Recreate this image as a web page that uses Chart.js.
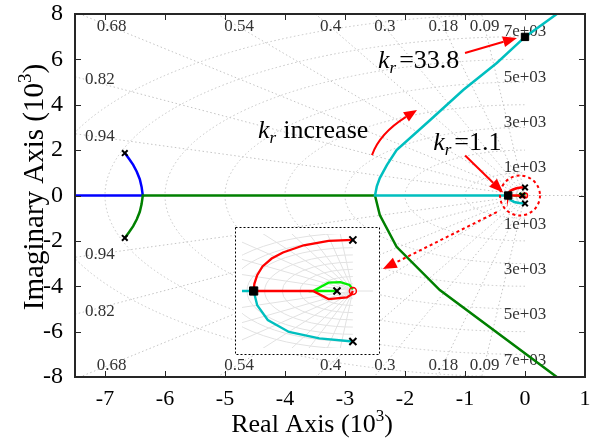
<!DOCTYPE html>
<html>
<head>
<meta charset="utf-8">
<script src="https://cdn.jsdelivr.net/npm/chart.js@4.4.1/dist/chart.umd.min.js"></script>
<style>
  html, body { margin: 0; padding: 0; background: #fff; }
  #wrap { position: relative; width: 592px; height: 441px; }
  #inset { position: absolute; left: 235px; top: 227px; background: #fff; }
</style>
</head>
<body>
<div id="wrap">
  <canvas id="myChart" width="592" height="441"></canvas>
  <canvas id="inset" width="145" height="128"></canvas>
</div>
<script>
// axes, units of 10^3
const xLim = [-7.5, 1];
const yLim = [-8, 8];
const xTicks = [-7, -6, -5, -4, -3, -2, -1, 0, 1];
const yTicks = [-8, -6, -4, -2, 0, 2, 4, 6, 8];

// zoomed window shown in the inset
const insetXLim = [-0.314, 0.057];
const insetYLim = [-0.395, 0.395];

// sgrid: damping ratios and natural frequencies
const zetas = [0.09, 0.18, 0.3, 0.4, 0.54, 0.68, 0.82, 0.94];
const wns = [1, 2, 3, 4, 5, 6, 7, 8];
const wnLabelled = [1, 3, 5, 7];
const insetWns = [0.05, 0.1, 0.15, 0.2, 0.25, 0.3, 0.35, 0.4];

// root locus branches
const blueX = [-6.67, -6.60, -6.53, -6.47, -6.42, -6.39, -6.37, -7.6];
const blueY = [1.87, 1.62, 1.35, 1.05, 0.72, 0.38, 0, 0];

const greenX = [-6.67, -6.60, -6.53, -6.47, -6.42, -6.39, -6.37, -2.50, -2.42, -2.14, -1.42, 0.53, 0.70];
const greenY = [-1.87, -1.62, -1.35, -1.05, -0.72, -0.38, 0, 0, -0.86, -2.26, -4.17, -8.0, -8.35];

const cyanX = [0, -0.095, -0.181, -0.241, -0.271, -0.281, -2.50, -2.47, -2.42, -2.30, -2.14, -1.58, -1.03, -0.47, 0, 0.53, 0.68];
const cyanY = [-0.350, -0.329, -0.284, -0.201, -0.098, 0, 0, 0.40, 0.77, 1.35, 2.0, 3.33, 4.65, 5.84, 6.99, 8.0, 8.3];

const redX = [0, -0.069, -0.139, -0.198, -0.230, -0.256, -0.271, -0.279, -0.281, -0.113, -0.069, -0.017, -0.005, 0];
const redY = [0.354, 0.348, 0.317, 0.267, 0.225, 0.170, 0.110, 0.050, 0, 0, -0.056, -0.045, -0.025, 0];

const limeX = [-0.045, -0.113, -0.069, -0.035, -0.0095, 0];
const limeY = [0, 0, 0.058, 0.062, 0.042, 0.011];

// open loop poles / zeros
const polesX = [-6.67, -6.67, 0, 0, -0.045];
const polesY = [1.87, -1.87, 0.354, -0.350, 0];
const zerosX = [0];
const zerosY = [0];

// marked gains k_r
const gainX = [0, -0.281];
const gainY = [6.99, 0];
const gainK = ['33.8', '1.1'];

const SERIF = '"Liberation Serif", "Times New Roman", serif';
const zip = (xs, ys) => xs.map((x, i) => ({ x: x, y: ys[i] }));

function lineSet(xs, ys, color, width, order) {
    return { data: zip(xs, ys), showLine: true, borderColor: color, borderWidth: width,
             pointRadius: 0, fill: false, tension: 0, order: order, clip: 0 };
}
function markSet(xs, ys, style, r, color, bg, w, order) {
    return { data: zip(xs, ys), showLine: false, pointStyle: style, pointRadius: r,
             borderColor: color, backgroundColor: bg, pointBorderWidth: w, order: order, clip: 6 };
}
function makeSets(big) {
    const lw = big ? 2.5 : 2.3;
    return [
        markSet(polesX, polesY, 'crossRot', big ? 4 : 5, '#000', '#000', 2, 0),
        markSet(gainX, gainY, 'rect', big ? 5.2 : 5.8, '#000', '#000', 1, 0),
        markSet(zerosX, zerosY, 'circle', big ? 2.5 : 3.5, '#f00', 'rgba(0,0,0,0)', 1.5, 1),
        lineSet(redX, redY, '#ff0000', lw, 2),
        lineSet(limeX, limeY, '#00ee00', lw, 3),
        lineSet(cyanX, cyanY, '#00bfbf', lw, 4),
        lineSet(greenX, greenY, '#008000', lw, 5),
        lineSet(blueX, blueY, '#0000ff', lw, 6)
    ];
}

function drawSgrid(chart, color, dash, radii, labels) {
    const { ctx, chartArea: a, scales: { x, y } } = chart;
    const ox = x.getPixelForValue(0), oy = y.getPixelForValue(0);
    const kx = Math.abs(x.getPixelForValue(1) - ox), ky = Math.abs(y.getPixelForValue(1) - oy);
    ctx.save();
    ctx.beginPath(); ctx.rect(a.left, a.top, a.right - a.left, a.bottom - a.top); ctx.clip();
    ctx.strokeStyle = color; ctx.lineWidth = 1; ctx.setLineDash(dash);
    const R = 50;
    zetas.forEach(z => {
        const s = Math.sqrt(1 - z * z);
        [1, -1].forEach(sg => {
            ctx.beginPath(); ctx.moveTo(ox, oy);
            ctx.lineTo(ox - z * R * kx, oy - sg * s * R * ky); ctx.stroke();
        });
    });
    radii.forEach(r => {
        ctx.beginPath(); ctx.ellipse(ox, oy, r * kx, r * ky, 0, Math.PI / 2, 3 * Math.PI / 2); ctx.stroke();
    });
    ctx.beginPath(); ctx.moveTo(ox, oy); ctx.lineTo(a.right, oy); ctx.stroke();
    ctx.restore();
    if (!labels) return;

    ctx.save();
    ctx.fillStyle = '#333';
    ctx.font = '17px ' + SERIF;
    ctx.textBaseline = 'middle';
    const yMax = y.max, xMin = x.min;
    zetas.forEach(z => {
        const s = Math.sqrt(1 - z * z);
        const xt = -yMax * z / s;
        if (xt >= xMin) {
            const yl = yMax - 13 / ky;
            let cx = x.getPixelForValue(-yl * z / s);
            const w = ctx.measureText(String(z)).width;
            cx = Math.max(cx, a.left + 11 + w / 2);
            ctx.textAlign = 'center';
            ctx.fillText(String(z), cx, a.top + 13);
            ctx.fillText(String(z), cx, a.bottom - 11);
        } else {
            const yv = -xMin * s / z;
            ctx.textAlign = 'left';
            ctx.fillText(String(z), a.left + 10, y.getPixelForValue(yv) + 3);
            ctx.fillText(String(z), a.left + 10, y.getPixelForValue(-yv) - 3);
        }
    });
    ctx.textAlign = 'center';
    wnLabelled.forEach(w => {
        const t = w + 'e+03';
        ctx.fillText(t, ox, y.getPixelForValue(w) - 5);
        ctx.fillText(t, ox, y.getPixelForValue(-w) + 6);
    });
    ctx.restore();
}

function arrow(ctx, x0, y0, x1, y1, len, hw) {
    const ang = Math.atan2(y1 - y0, x1 - x0);
    const bx = x1 - len * Math.cos(ang), by = y1 - len * Math.sin(ang);
    ctx.beginPath(); ctx.moveTo(x0, y0); ctx.lineTo(bx, by); ctx.stroke();
    ctx.setLineDash([]);
    ctx.beginPath(); ctx.moveTo(x1, y1);
    ctx.lineTo(bx + hw * Math.sin(ang), by - hw * Math.cos(ang));
    ctx.lineTo(bx - hw * Math.sin(ang), by + hw * Math.cos(ang));
    ctx.closePath(); ctx.fill();
}

function kText(ctx, x, y, rest, gap) {
    ctx.textAlign = 'left'; ctx.textBaseline = 'alphabetic';
    ctx.font = 'italic 26px ' + SERIF;
    ctx.fillText('k', x, y);
    x += ctx.measureText('k').width;
    ctx.font = 'italic 17px ' + SERIF;
    ctx.fillText('r', x, y + 5);
    x += ctx.measureText('r').width + gap;
    ctx.font = '26px ' + SERIF;
    ctx.fillText(rest, x, y);
}

const mainPlugin = {
    id: 'rlocus',
    beforeDatasetsDraw(chart) {
        drawSgrid(chart, '#c4c4c4', [1.5, 2.5], wns, true);
    },
    afterDatasetsDraw(chart) {
        const { ctx, chartArea: a, scales: { x, y } } = chart;
        const P = (vx, vy) => [x.getPixelForValue(vx), y.getPixelForValue(vy)];
        ctx.save();
        ctx.fillStyle = '#000';
        // gain labels
        const g0 = P(gainX[0], gainY[0]), g1 = P(gainX[1], gainY[1]);
        kText(ctx, g0[0] - 147, g0[1] + 31, '=' + gainK[0], 3);
        kText(ctx, g1[0] - 75, g1[1] - 46, '=' + gainK[1], 3);
        kText(ctx, x.getPixelForValue(-4.45), y.getPixelForValue(2.54), 'increase', 7);

        ctx.strokeStyle = '#ff0000'; ctx.fillStyle = '#ff0000'; ctx.lineWidth = 2;
        arrow(ctx, g0[0] - 60, g0[1] + 16, g0[0] - 8, g0[1] + 1, 14, 5.5);
        arrow(ctx, g1[0] - 43, g1[1] - 40, g1[0] - 5, g1[1] - 3, 14, 5.5);

        // k_r increase curved arrow
        const s = P(-2.55, 1.78), c = P(-2.425, 2.73), e = P(-1.8, 3.77);
        const ang = Math.atan2(e[1] - c[1], e[0] - c[0]);
        const bx = e[0] - 13 * Math.cos(ang), by = e[1] - 13 * Math.sin(ang);
        ctx.beginPath(); ctx.moveTo(s[0], s[1]); ctx.quadraticCurveTo(c[0], c[1], bx, by); ctx.stroke();
        ctx.beginPath(); ctx.moveTo(e[0], e[1]);
        ctx.lineTo(bx + 5.5 * Math.sin(ang), by - 5.5 * Math.cos(ang));
        ctx.lineTo(bx - 5.5 * Math.sin(ang), by + 5.5 * Math.cos(ang));
        ctx.closePath(); ctx.fill();

        // dashed circle around the zoomed region and arrow to the inset
        const cc = P(-0.083, 0);
        const cr = x.getPixelForValue(0.25) - x.getPixelForValue(-0.083);
        ctx.setLineDash([3, 3]);
        ctx.beginPath(); ctx.arc(cc[0], cc[1], cr, 0, Math.PI * 2); ctx.stroke();
        ctx.setLineDash([3, 3]);
        const d0 = P(-0.47, -0.73), d1 = P(-2.37, -3.24);
        arrow(ctx, d0[0], d0[1], d1[0], d1[1], 14, 5.5);
        ctx.restore();

        // box and inward ticks
        ctx.save();
        ctx.strokeStyle = '#262626'; ctx.lineWidth = 1;
        xTicks.forEach(v => {
            const px = Math.round(x.getPixelForValue(v)) + 0.5;
            ctx.beginPath(); ctx.moveTo(px, a.bottom); ctx.lineTo(px, a.bottom - 6);
            ctx.moveTo(px, a.top); ctx.lineTo(px, a.top + 6); ctx.stroke();
        });
        yTicks.forEach(v => {
            const py = Math.round(y.getPixelForValue(v)) + 0.5;
            ctx.beginPath(); ctx.moveTo(a.left, py); ctx.lineTo(a.left + 6, py);
            ctx.moveTo(a.right, py); ctx.lineTo(a.right - 6, py); ctx.stroke();
        });
        ctx.lineWidth = 2;
        ctx.strokeRect(a.left, a.top, a.right - a.left, a.bottom - a.top);
        ctx.restore();
    },
    afterDraw(chart) {
        const { ctx } = chart;
        ctx.save();
        ctx.fillStyle = '#000'; ctx.textBaseline = 'alphabetic'; ctx.textAlign = 'left';
        // x title
        ctx.font = '26px ' + SERIF;
        const t1 = 'Real Axis (10', t2 = ')';
        const w1 = ctx.measureText(t1).width, w2 = ctx.measureText(t2).width;
        ctx.font = '17px ' + SERIF;
        const ws = ctx.measureText('3').width;
        let sx = 312 - (w1 + ws + w2) / 2;
        ctx.font = '26px ' + SERIF; ctx.fillText(t1, sx, 432);
        ctx.font = '17px ' + SERIF; ctx.fillText('3', sx + w1, 421);
        ctx.font = '26px ' + SERIF; ctx.fillText(t2, sx + w1 + ws, 432);
        // y title
        ctx.translate(43, 187); ctx.rotate(-Math.PI / 2);
        ctx.font = '29px ' + SERIF;
        const u1 = 'Imaginary Axis (10';
        const v1 = ctx.measureText(u1).width, v2 = ctx.measureText(t2).width;
        ctx.font = '19px ' + SERIF;
        const vs = ctx.measureText('3').width;
        sx = -(v1 + vs + v2) / 2;
        ctx.font = '29px ' + SERIF; ctx.fillText(u1, sx, 0);
        ctx.font = '19px ' + SERIF; ctx.fillText('3', sx + v1, -12);
        ctx.font = '29px ' + SERIF; ctx.fillText(t2, sx + v1 + vs, 0);
        ctx.restore();
    }
};

const insetPlugin = {
    id: 'insetGrid',
    beforeDatasetsDraw(chart) {
        drawSgrid(chart, '#e2e2e2', [], insetWns, false);
    },
    afterDraw(chart) {
        const { ctx } = chart;
        ctx.save();
        ctx.strokeStyle = '#000'; ctx.lineWidth = 1; ctx.setLineDash([2, 2]);
        ctx.strokeRect(0.5, 0.5, chart.width - 1, chart.height - 1);
        ctx.restore();
    }
};

new Chart(document.getElementById('myChart').getContext('2d'), {
    type: 'scatter',
    data: { datasets: makeSets(true) },
    options: {
        responsive: false, animation: false, devicePixelRatio: 1,
        layout: { padding: { top: 14, right: 7, left: 0, bottom: 0 } },
        plugins: { legend: { display: false }, tooltip: { enabled: false } },
        scales: {
            x: {
                type: 'linear', min: xLim[0], max: xLim[1],
                afterBuildTicks: s => { s.ticks = xTicks.map(v => ({ value: v })); },
                afterFit: s => { s.height = 64; s.paddingLeft = 0; s.paddingRight = 0; },
                grid: { display: false, drawTicks: false }, border: { display: false },
                ticks: { font: { family: SERIF, size: 22 }, color: '#000', padding: 9,
                         maxRotation: 0, autoSkip: false, callback: v => String(v) }
            },
            y: {
                type: 'linear', min: yLim[0], max: yLim[1],
                afterBuildTicks: s => { s.ticks = yTicks.map(v => ({ value: v })); },
                afterFit: s => { s.width = 75; s.paddingTop = 0; s.paddingBottom = 0; },
                grid: { display: false, drawTicks: false }, border: { display: false },
                ticks: { font: { family: SERIF, size: 24 }, color: '#000', padding: 12,
                         autoSkip: false, callback: v => String(v) }
            }
        }
    },
    plugins: [mainPlugin]
});

new Chart(document.getElementById('inset').getContext('2d'), {
    type: 'scatter',
    data: { datasets: makeSets(false) },
    options: {
        responsive: false, animation: false, devicePixelRatio: 1,
        layout: { padding: 0 },
        plugins: { legend: { display: false }, tooltip: { enabled: false } },
        scales: {
            x: { type: 'linear', display: false, min: insetXLim[0], max: insetXLim[1] },
            y: { type: 'linear', display: false, min: insetYLim[0], max: insetYLim[1] }
        }
    },
    plugins: [insetPlugin]
});
</script>
</body>
</html>
